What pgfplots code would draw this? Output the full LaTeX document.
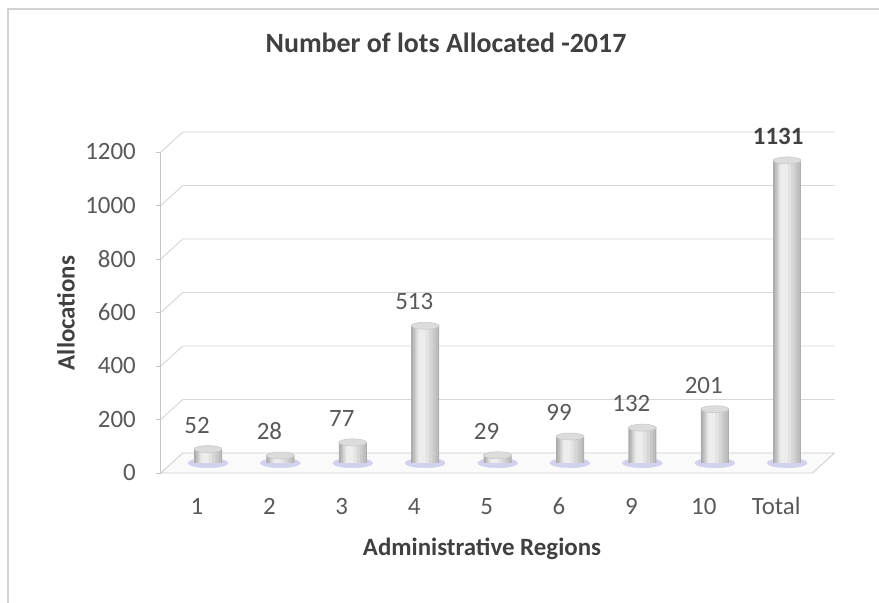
\documentclass[border=0pt]{standalone}
\usepackage{pgfplots}
\usepackage{pgfplotstable}
\pgfplotsset{compat=1.18}
\usepackage{fontspec}
\setmainfont{Carlito}
\definecolor{txt}{HTML}{595959}
\definecolor{ttl}{HTML}{404040}
\definecolor{gridc}{HTML}{D6D6D6}
\definecolor{capc}{HTML}{DCDCDC}
\definecolor{shad}{HTML}{D2D2EE}
\pgfplotstableread{
x y
0 52
1 28
2 77
3 513
4 29
5 99
6 132
7 201
8 1131
}\regions
\pgfplotsset{
  lay/.style n args={3}{ybar, bar width=#1, bar shift=#2, draw=none, fill=#3},
  lbl/.style={nodes near coords,
    every node near coord/.append style={font=\fontsize{25}{25}\selectfont, text=txt,
      anchor=base, xshift=-11bp, yshift=16bp, inner sep=0pt}},
}
\begin{document}
\begin{tikzpicture}[x=1bp,y=1bp]
\path[use as bounding box] (0,0) rectangle (879,603);
\fill[white] (0,0) rectangle (879,603);
\draw[gray!35, line width=1.5bp] (8,0) -- (8,594) -- (879,594);
\begin{axis}[
  at={(171.8bp,140bp)}, anchor=south west,
  width=651.6bp, height=321bp, scale only axis,
  xmin=-0.5, xmax=8.5, ymin=0, ymax=1200,
  axis line style={draw=none},
  tick style={draw=none},
  xtick={0,...,8},
  xticklabels={1,2,3,4,5,6,9,10,Total},
  ytick={0,200,...,1200},
  /pgf/number format/assume math mode=true,
  /pgf/number format/1000 sep={},
  ticklabel style={font=\fontsize{25}{25}\selectfont, text=txt},
  xticklabel style={anchor=base, xshift=-11bp, yshift=-52bp, inner sep=0pt},
  yticklabel style={anchor=east, xshift=-35.8bp, yshift=-10bp, inner sep=0pt},
  clip=false,
  clip marker paths=true,
]
% floor
\filldraw[fill=gray!4, draw=gray!40, line width=0.8bp]
  ([xshift=-11bp,yshift=-10bp]axis cs:-0.5,0) --
  ([xshift=-11bp,yshift=-10bp]axis cs:8.5,0) --
  ([xshift=11bp,yshift=10bp]axis cs:8.5,0) --
  ([xshift=11bp,yshift=10bp]axis cs:-0.5,0) -- cycle;
% back-wall gridlines and left diagonals
\pgfplotsinvokeforeach{200,400,...,1200}{
  \draw[gridc, line width=0.9bp] ([xshift=-11bp,yshift=-10bp]axis cs:-0.5,#1) --
    ([xshift=11bp,yshift=10bp]axis cs:-0.5,#1) -- ([xshift=11bp,yshift=10bp]axis cs:8.5,#1);
}
\pgfplotsinvokeforeach{0,200,...,1200}{
  \draw[gray!45, line width=0.8bp] ([xshift=-16bp,yshift=-10bp]axis cs:-0.5,#1) --
    ([xshift=-11bp,yshift=-10bp]axis cs:-0.5,#1);
}
\draw[gray!45, line width=0.8bp] ([xshift=-11bp,yshift=-10bp]axis cs:-0.5,0) --
  ([xshift=-11bp,yshift=-10bp]axis cs:-0.5,1200);
% shadows under bars
\addplot[only marks, mark=*, mark size=20bp, color=shad,
  mark options={yscale=0.24, fill=shad, draw=shad}]
  table[x=x, y expr=0] {\regions};
% cylinders: stacked strips of decreasing width give the rounded shading
\addplot[lay={28bp}{0bp}{black!32}, lbl, restrict x to domain=0:7] table[x=x,y=y] {\regions};
\addplot[lay={28bp}{0bp}{black!32}, lbl,
  every node near coord/.append style={font=\bfseries\fontsize{25}{25}\selectfont, text=ttl, xshift=2bp},
  restrict x to domain=7.5:8.5] table[x=x,y=y] {\regions};
\addplot[lay={25bp}{0.5bp}{black!26}] table[x=x,y=y] {\regions};
\addplot[lay={21bp}{0bp}{black!21}] table[x=x,y=y] {\regions};
\addplot[lay={17bp}{-1bp}{black!16}] table[x=x,y=y] {\regions};
\addplot[lay={12bp}{-2bp}{black!11}] table[x=x,y=y] {\regions};
\addplot[lay={7bp}{-3bp}{black!7}] table[x=x,y=y] {\regions};
% cylinder caps
\addplot[only marks, mark=*, mark size=14bp, color=gray!45,
  mark options={yscale=0.25, fill=capc, draw=gray!45, line width=0.5bp}]
  table[x=x,y=y] {\regions};
\end{axis}
\node[font=\bfseries\fontsize{28}{28}\selectfont, text=ttl] at (446,560) {Number of lots Allocated -2017};
\node[rotate=90, font=\bfseries\fontsize{25}{25}\selectfont, text=ttl] at (66,290) {Allocations};
\node[font=\bfseries\fontsize{25}{25}\selectfont, text=ttl] at (482,54) {Administrative Regions};
\end{tikzpicture}
\end{document}
